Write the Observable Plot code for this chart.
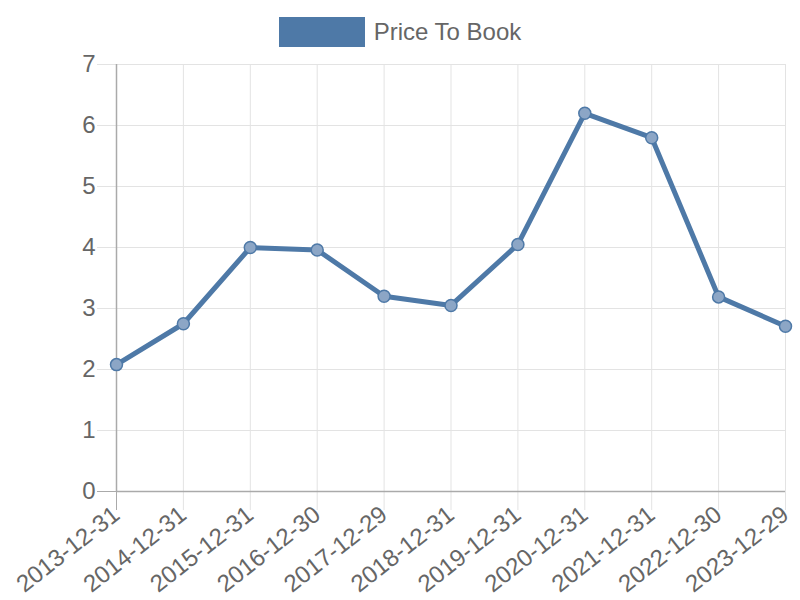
<!DOCTYPE html>
<html>
<head>
<meta charset="utf-8">
<script src="https://cdn.jsdelivr.net/npm/d3@7"></script>
<script src="https://cdn.jsdelivr.net/npm/@observablehq/plot@0.6"></script>
<style>
  body { margin: 0; background: #fff; font-family: "Liberation Sans", Arial, sans-serif; }
  #legend { height: 40px; box-sizing: border-box; padding-top: 17px; display: flex; justify-content: center; align-items: flex-start; overflow: visible; position: relative; z-index: 1; }
  #legend .sw { width: 86px; height: 30px; flex: none; background: #4e79a7; margin-right: 9px; }
  #legend .lb { font-size: 24px; line-height: 30px; color: #666; white-space: nowrap; }
  #chart svg { overflow: visible; background: transparent; }
</style>
</head>
<body>
<div id="legend"><div class="sw"></div><div class="lb">Price To Book</div></div>
<div id="chart"></div>
<script>
const dates = ["2013-12-31","2014-12-31","2015-12-31","2016-12-30","2017-12-29","2018-12-31","2019-12-31","2020-12-31","2021-12-31","2022-12-30","2023-12-29"];
const priceToBook = [2.08, 2.75, 4.0, 3.96, 3.2, 3.05, 4.05, 6.2, 5.8, 3.19, 2.71];
const yTicks = [0, 1, 2, 3, 4, 5, 6, 7];
const seriesName = "Price To Book";

const data = dates.map((d, i) => ({date: d, value: priceToBook[i]}));
const color = "#4e79a7";

const chart = Plot.plot({
  width: 800,
  height: 560,
  marginTop: 24,
  marginLeft: 116,
  marginRight: 15,
  marginBottom: 109,
  style: {fontFamily: "'Liberation Sans', Arial, sans-serif", fontSize: "24px", background: "transparent", overflow: "visible"},
  x: {type: "point", domain: dates, padding: 0, round: false, label: null},
  y: {domain: [0, 7], label: null},
  marks: [
    Plot.gridX(dates, {stroke: "#e3e3e3", strokeOpacity: 1, strokeWidth: 1}),
    Plot.gridY(yTicks, {stroke: "#e3e3e3", strokeOpacity: 1, strokeWidth: 1}),
    Plot.axisY({ticks: yTicks, tickFormat: d => String(d), tickSize: 19, tickPadding: 2, stroke: "#e3e3e3", fill: "#666", fontSize: 24, label: null}),
    Plot.axisX({ticks: dates, tickSize: 19, tickPadding: 1, tickRotate: -38, stroke: "#e3e3e3", fill: "#666", fontSize: 24, label: null}),
    Plot.axisY({ticks: [0], tickSize: 19, stroke: "#aaa", text: null, label: null}),
    Plot.axisX({ticks: [dates[0]], tickSize: 19, stroke: "#aaa", text: null, label: null}),
    Plot.ruleY([0], {stroke: "#aaa", strokeWidth: 1.5}),
    Plot.ruleX([dates[0]], {stroke: "#aaa", strokeWidth: 1.5}),
    Plot.line(data, {x: "date", y: "value", stroke: color, strokeWidth: 5, strokeLinejoin: "round"}),
    Plot.dot(data, {x: "date", y: "value", r: 6, fill: "#8ca6c6", stroke: color, strokeWidth: 1.5})
  ]
});
document.getElementById("chart").appendChild(chart);
</script>
</body>
</html>
